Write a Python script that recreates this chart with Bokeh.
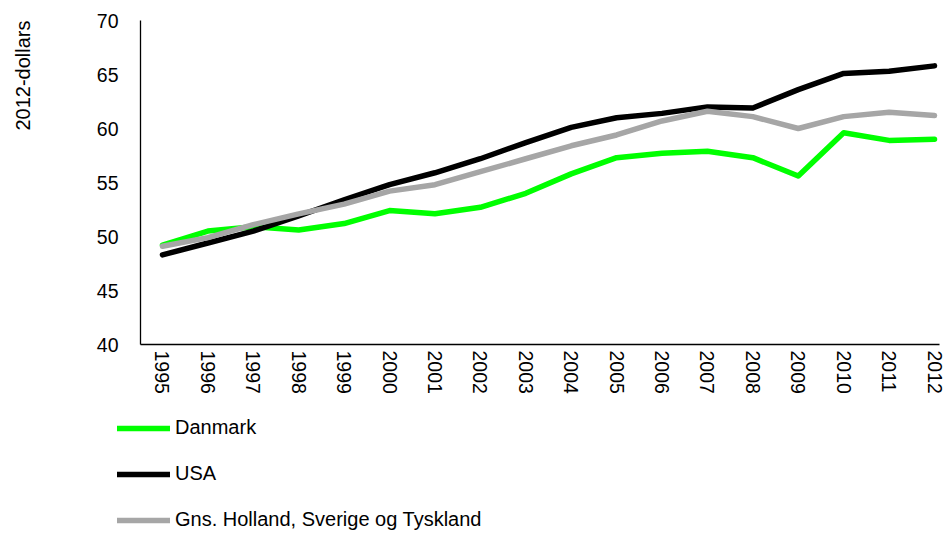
from math import pi
from bokeh.plotting import figure
from bokeh.layouts import column, row
from bokeh.models import Range1d, FixedTicker, Legend, LegendItem, Label
from bokeh.embed import file_html
from bokeh.resources import INLINE

years = list(range(1995, 2013))
danmark = [49.2, 50.5, 50.9, 50.6, 51.2, 52.4, 52.1, 52.7, 54.0, 55.8, 57.3, 57.7, 57.9, 57.3, 55.6, 59.6, 58.9, 59.0]
usa = [48.3, 49.4, 50.5, 51.9, 53.4, 54.8, 55.9, 57.2, 58.7, 60.1, 61.0, 61.4, 62.0, 61.9, 63.6, 65.1, 65.3, 65.8]
gns = [49.1, 49.9, 51.1, 52.1, 53.0, 54.2, 54.8, 56.0, 57.2, 58.4, 59.4, 60.7, 61.6, 61.1, 60.0, 61.1, 61.5, 61.2]
y_ticks = [40, 45, 50, 55, 60, 65, 70]
y_label = "2012-dollars"
names = ["Danmark", "USA", "Gns. Holland, Sverige og Tyskland"]
colors = ["#00FF00", "#000000", "#A6A6A6"]
FONT = "Liberation Sans"
LW = 5.5

# narrow strip on the left carrying the y-axis title
lab = figure(width=40, height=405, output_backend="svg", toolbar_location=None,
             x_range=Range1d(0, 40), y_range=Range1d(y_ticks[0], y_ticks[-1]),
             x_axis_type=None, y_axis_type=None,
             min_border_left=0, min_border_right=0, min_border_top=20, min_border_bottom=61)
lab.outline_line_color = None
lab.frame_align = False
lab.add_layout(Label(x=22, y=y_ticks[-1], text=y_label, angle=pi / 2, text_align="right",
                     text_baseline="middle", text_font=FONT, text_font_size="20px",
                     text_color="black"))

p = figure(width=907, height=405, output_backend="svg", toolbar_location=None,
           x_range=Range1d(1994.516, 2012.11), y_range=Range1d(y_ticks[0], y_ticks[-1]),
           min_border_left=100, min_border_top=20, min_border_right=8, min_border_bottom=61)
p.frame_align = False
p.outline_line_color = None
p.grid.grid_line_color = None

p.xaxis.ticker = FixedTicker(ticks=years)
p.yaxis.ticker = FixedTicker(ticks=y_ticks)
p.xaxis.major_label_orientation = "vertical"
for ax in (p.xaxis, p.yaxis):
    ax.axis_line_color = "black"
    ax.axis_line_width = 1.3
    ax.major_tick_line_color = None
    ax.minor_tick_line_color = None
    ax.major_tick_out = 0
    ax.major_tick_in = 0
    ax.major_label_text_font = FONT
    ax.major_label_text_font_size = "19.5px"
    ax.major_label_text_color = "black"
p.xaxis.major_label_standoff = 6
p.yaxis.major_label_standoff = 22

for vals, c in zip([danmark, usa, gns], colors):
    p.line(years, vals, line_color=c, line_width=LW, line_cap="round", line_join="round")

# legend strip below the chart: same series, drawn outside its visible range
lg = figure(width=947, height=128, output_backend="svg", toolbar_location=None,
            x_range=Range1d(0, 1), y_range=Range1d(0, 1),
            x_axis_type=None, y_axis_type=None,
            min_border_left=0, min_border_top=0, min_border_right=0, min_border_bottom=0)
lg.frame_align = False
lg.grid.grid_line_color = None
lg.outline_line_color = None
lg_renderers = []
for vals, c in zip([danmark, usa, gns], colors):
    r = lg.line(years, vals, line_color=c, line_width=LW, line_cap="round", line_join="round")
    lg_renderers.append(r)

legend = Legend(items=[LegendItem(label=n, renderers=[r]) for n, r in zip(names, lg_renderers)],
                location=(117, 2), orientation="vertical",
                glyph_width=53, glyph_height=20, label_height=20, spacing=23,
                padding=0, margin=0, label_standoff=5,
                label_text_font=FONT, label_text_font_size="20px", label_text_color="black",
                border_line_color=None, background_fill_alpha=0)
lg.add_layout(legend, "center")

layout = column(row(lab, p, spacing=0), lg, spacing=0)
open("out.html", "w").write(file_html(layout, INLINE))
